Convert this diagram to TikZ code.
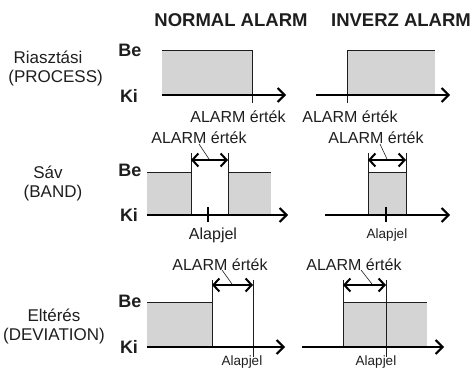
\documentclass[tikz,border=0pt]{standalone}
\usepackage{fontspec}
\setmainfont{Liberation Sans}
\usetikzlibrary{arrows.meta}
\definecolor{ink}{HTML}{1E1E1E}
\definecolor{boxfill}{HTML}{D4D4D4}
\tikzset{
  lbl/.style={font=\fontsize{16}{18}\selectfont, text=ink, inner sep=0pt},
  small/.style={font=\fontsize{13.5}{15}\selectfont, text=ink, inner sep=0pt},
  side/.style={font=\fontsize{17}{19}\selectfont, text=ink, inner sep=0pt},
  head/.style={font=\bfseries\fontsize{18.5}{20}\selectfont, text=ink, inner sep=0pt},
  bk/.style={font=\bfseries\fontsize{18}{20}\selectfont, text=ink, inner sep=0pt},
  fillbox/.style={fill=boxfill, draw=none},
  thinl/.style={draw=ink, line width=0.9pt},
  axis/.style={draw=black, line width=1.6pt, -{Straight Barb[length=7pt,width=14pt,line width=2pt]}},
  dbl/.style={draw=black, line width=1.4pt, {Straight Barb[length=6pt,width=13pt,line width=2pt]}-{Straight Barb[length=6pt,width=13pt,line width=2pt]}},
  lead/.style={draw=ink, line width=0.6pt},
}
\begin{document}
\begin{tikzpicture}[x=1pt,y=-1pt]
\useasboundingbox (0,0) rectangle (472,369);
% headers
\node[head] (hn) at (231,20) {NORMAL ALARM};
\node[head] (hi) at (401,20) {INVERZ ALARM};
% side labels
\node[side] (s1a) at (48,57) {Riasztási};
\node[side, anchor=east] (s1b) at (103,78) {(PROCESS)};
\node[side] (s2a) at (48,172) {Sáv};
\node[side] (s2b) at (53,193) {(BAND)};
\node[side] (s3a) at (54,315) {Eltérés};
\node[side, anchor=east] (s3b) at (105,336) {(DEVIATION)};
% Be / Ki
\node[bk] (be1) at (130,50) {Be};
\node[bk] (ki1) at (129,96) {Ki};
\node[bk] (be2) at (130,170) {Be};
\node[bk] (ki2) at (129,215) {Ki};
\node[bk] (be3) at (130,301) {Be};
\node[bk] (ki3) at (129,347) {Ki};

% ---------- PROCESS normal
\fill[fillbox] (162,50) rectangle (252,95);
\draw[thinl] (162,50) -- (252,50);
\draw[thinl] (252,50) -- (252,103);
\coordinate (pa0) at (162,95); \coordinate (pa1) at (286,95);
\draw[axis] (pa0) -- (pa1);
\node[lbl] (pl1) at (238,117) {ALARM érték};
% ---------- PROCESS inverz
\fill[fillbox] (347,50) rectangle (435,95);
\draw[thinl] (347,50) -- (435,50);
\draw[thinl] (347,50) -- (347,103);
\coordinate (pb0) at (316,95); \coordinate (pb1) at (450,95);
\draw[axis] (pb0) -- (pb1);
\node[lbl] (pl2) at (350,117) {ALARM érték};

% ---------- BAND normal
\fill[fillbox] (147,172) rectangle (191,215);
\fill[fillbox] (228,172) rectangle (271,215);
\draw[thinl] (147,172) -- (191,172) (228,172) -- (271,172);
\draw[thinl] (191,153) -- (191,215) (228,153) -- (228,215);
\coordinate (ba0) at (191,160); \coordinate (ba1) at (228,160);
\draw[dbl] (ba0) -- (ba1);
\coordinate (bx0) at (147,215); \coordinate (bx1) at (288,215);
\draw[axis] (bx0) -- (bx1);
\draw[draw=black, line width=1.4pt] (208,207) -- (208,222);
\node[lbl] (bl1) at (199,138) {ALARM érték};
\coordinate (bq1) at (209,159);
\draw[lead] (199,144) -- (bq1);
\node[lbl] (ap1) at (213,235) {Alapjel};
% ---------- BAND inverz
\fill[fillbox] (368,172) rectangle (406,215);
\draw[thinl] (368,172) -- (406,172);
\draw[thinl] (368,153) -- (368,215) (406,153) -- (406,215);
\coordinate (bb0) at (368,160); \coordinate (bb1) at (406,160);
\draw[dbl] (bb0) -- (bb1);
\coordinate (by0) at (325,215); \coordinate (by1) at (450,215);
\draw[axis] (by0) -- (by1);
\draw[draw=black, line width=1.4pt] (386,207) -- (386,222);
\node[lbl] (bl2) at (376,138) {ALARM érték};
\coordinate (bq2) at (387,159);
\draw[lead] (380,144) -- (bq2);
\node[small] (ap2) at (387,235) {Alapjel};

% ---------- DEVIATION normal
\fill[fillbox] (147,302) rectangle (212,347);
\draw[thinl] (147,302) -- (212,302);
\draw[thinl] (212,280) -- (212,347);
\draw[thinl] (253,280) -- (253,357);
\coordinate (da0) at (212,285); \coordinate (da1) at (253,285);
\draw[dbl] (da0) -- (da1);
\coordinate (dx0) at (147,347); \coordinate (dx1) at (285,347);
\draw[axis] (dx0) -- (dx1);
\node[lbl] (dl1) at (220,265) {ALARM érték};
\coordinate (dq1) at (232,284);
\draw[lead] (222,270) -- (dq1);
\node[small] (ap3) at (242,362) {Alapjel};
% ---------- DEVIATION inverz
\fill[fillbox] (343,302) rectangle (427,347);
\draw[thinl] (343,302) -- (427,302);
\draw[thinl] (343,280) -- (343,347);
\draw[thinl] (386,280) -- (386,357);
\coordinate (db0) at (343,285); \coordinate (db1) at (386,285);
\draw[dbl] (db0) -- (db1);
\coordinate (dy0) at (302,347); \coordinate (dy1) at (444,347);
\draw[axis] (dy0) -- (dy1);
\node[lbl] (dl2) at (354,265) {ALARM érték};
\coordinate (dq2) at (372,284);
\draw[lead] (361,270) -- (dq2);
\node[small] (ap4) at (376,362) {Alapjel};
\end{tikzpicture}
\end{document}
